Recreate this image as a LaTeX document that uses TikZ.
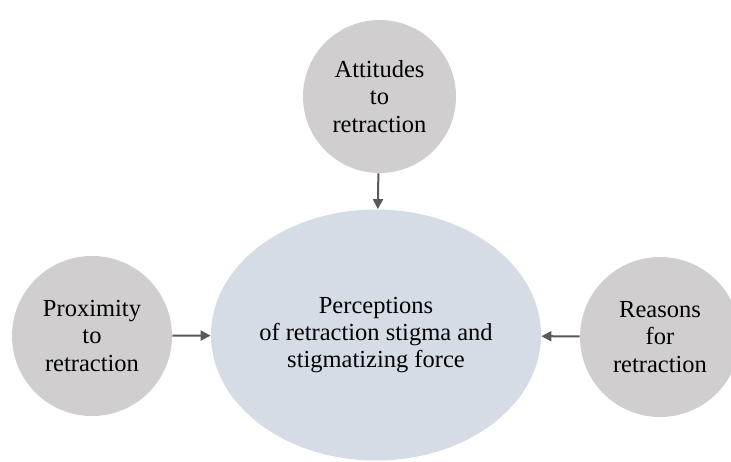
\documentclass[tikz,border=0pt]{standalone}
\usepackage{xcolor}
\usepackage{fontspec}
\setmainfont{Liberation Serif}
\usepackage{tikz}
\usetikzlibrary{shapes.geometric, arrows.meta, positioning}
\definecolor{circgray}{HTML}{D0CECE}
\definecolor{ellblue}{HTML}{D6DCE5}
\definecolor{arrowgray}{HTML}{595959}
\tikzstyle{factor} = [circle, minimum size=80pt, inner sep=0pt, align=center, fill=circgray, font=\fontsize{12.25}{13.6}\selectfont]
\tikzstyle{core} = [ellipse, minimum width=161pt, minimum height=125.5pt, inner sep=0pt, align=center, fill=ellblue, font=\fontsize{12.25}{13.6}\selectfont]
\tikzstyle{arrow} = [line width=1pt, draw=arrowgray, -{Triangle[length=5pt,width=5pt]}]

\begin{document}
\begin{tikzpicture}[x=0.5pt, y=0.5pt]

\useasboundingbox (0,0) rectangle (731,461);

\node (perc) [core] at (376,126) {Perceptions\\of retraction stigma and\\stigmatizing force};
\node (att) [factor, minimum size=76.5pt] at (379.5,364.5) {Attitudes\\to\\retraction};
\node (prox) [factor] at (92,125) {Proximity\\to\\retraction};
\node (reas) [factor] at (660,124) {Reasons\\for\\retraction};

\draw [arrow] (att) -- (perc);
\draw [arrow] (prox) -- (perc);
\draw [arrow] (reas) -- (perc);

\end{tikzpicture}
\end{document}
